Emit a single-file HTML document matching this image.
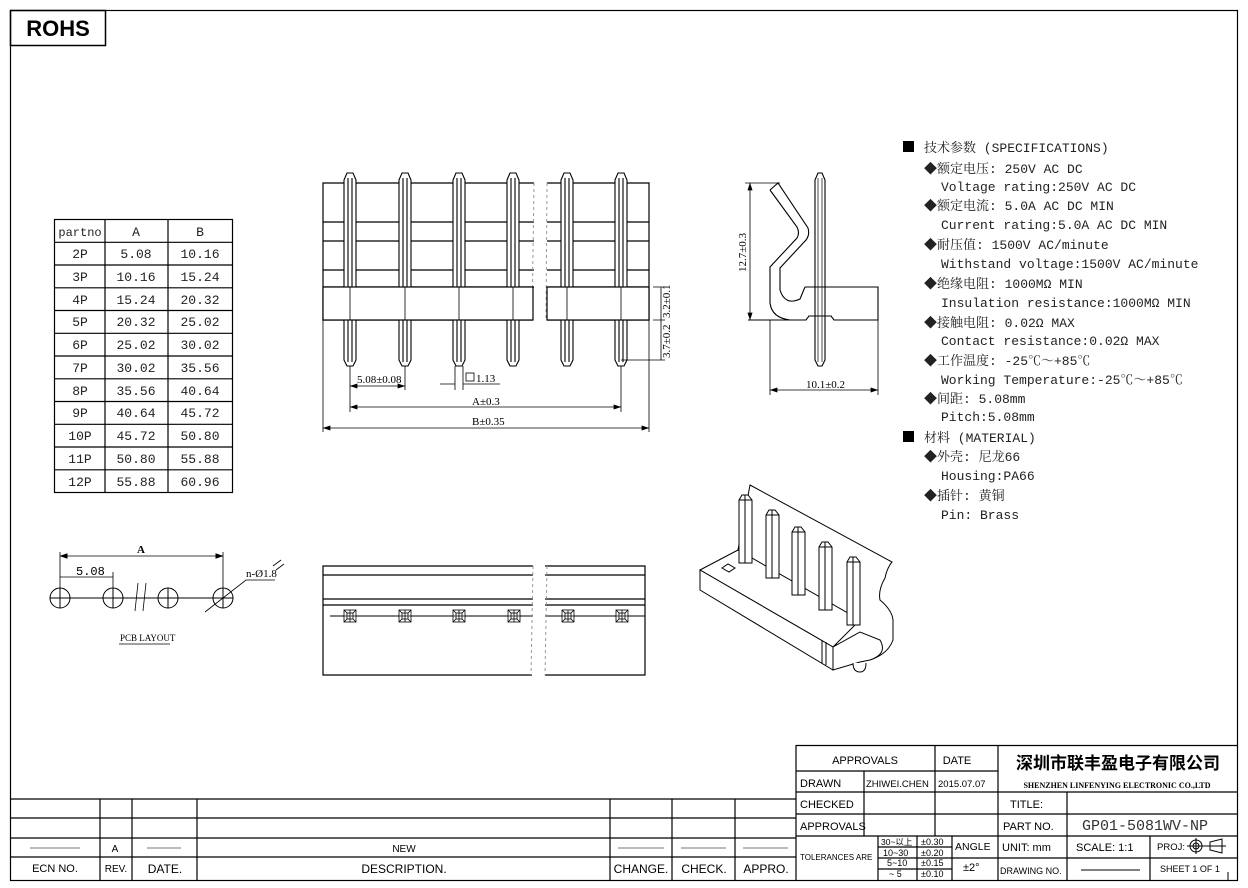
<!DOCTYPE html>
<html><head><meta charset="utf-8"><style>
html,body{margin:0;padding:0;background:#fff}
svg{display:block}
.s{font-family:"Liberation Sans","Noto Sans CJK SC",sans-serif}
.m{font-family:"Liberation Mono","Noto Serif CJK SC",monospace}
.r{font-family:"Liberation Serif","Noto Serif CJK SC",serif}
</style></head><body>
<svg width="1248" height="888" viewBox="0 0 1248 888" xmlns="http://www.w3.org/2000/svg" fill="none" stroke="#000" stroke-width="1">
<rect x="0" y="0" width="1248" height="888" fill="#fff" stroke="none"/>
<rect x="10.5" y="10.5" width="1227" height="870" stroke-width="1.2"/>
<rect x="10.5" y="10.5" width="95" height="35" stroke-width="1.5"/>
<text x="58" y="36" class="s" font-size="22" font-weight="bold" fill="#000" stroke="none" text-anchor="middle">ROHS</text>

<!-- parts table -->
<g stroke-width="1.2">
<rect x="54.5" y="219.5" width="178" height="273"/>
<line x1="105" y1="219" x2="105" y2="492"/><line x1="168" y1="219" x2="168" y2="492"/>
<line x1="54" y1="242.3" x2="232" y2="242.3"/><line x1="54" y1="265" x2="232" y2="265"/>
<line x1="54" y1="287.8" x2="232" y2="287.8"/><line x1="54" y1="310.5" x2="232" y2="310.5"/>
<line x1="54" y1="333.3" x2="232" y2="333.3"/><line x1="54" y1="356" x2="232" y2="356"/>
<line x1="54" y1="378.8" x2="232" y2="378.8"/><line x1="54" y1="401.5" x2="232" y2="401.5"/>
<line x1="54" y1="424.3" x2="232" y2="424.3"/><line x1="54" y1="447" x2="232" y2="447"/>
<line x1="54" y1="469.8" x2="232" y2="469.8"/>
</g>
<g class="m" font-size="13" fill="#222" stroke="none" text-anchor="middle">
<text x="80" y="236" font-size="12">partno</text><text x="136" y="236">A</text><text x="200" y="236">B</text>
<text x="80" y="258">2P</text><text x="136" y="258">5.08</text><text x="200" y="258">10.16</text>
<text x="80" y="281">3P</text><text x="136" y="281">10.16</text><text x="200" y="281">15.24</text>
<text x="80" y="304">4P</text><text x="136" y="304">15.24</text><text x="200" y="304">20.32</text>
<text x="80" y="326">5P</text><text x="136" y="326">20.32</text><text x="200" y="326">25.02</text>
<text x="80" y="349">6P</text><text x="136" y="349">25.02</text><text x="200" y="349">30.02</text>
<text x="80" y="372">7P</text><text x="136" y="372">30.02</text><text x="200" y="372">35.56</text>
<text x="80" y="395">8P</text><text x="136" y="395">35.56</text><text x="200" y="395">40.64</text>
<text x="80" y="417">9P</text><text x="136" y="417">40.64</text><text x="200" y="417">45.72</text>
<text x="80" y="440">10P</text><text x="136" y="440">45.72</text><text x="200" y="440">50.80</text>
<text x="80" y="463">11P</text><text x="136" y="463">50.80</text><text x="200" y="463">55.88</text>
<text x="80" y="486">12P</text><text x="136" y="486">55.88</text><text x="200" y="486">60.96</text>
</g>

<!-- front view -->
<g stroke-width="1.2">
<path d="M534 183 H323 V320 H533 M547 183 H649 V320 H547"/>
<path d="M323 222 H534 M323 241 H534 M323 270 H534 M323 287 H534 M547 222 H649 M547 241 H649 M547 270 H649 M547 287 H649"/>
</g>
<path d="M534 183 L532 320 M547 183 L546 320" stroke="#999" stroke-dasharray="3,3"/>
<g id="pin" stroke-width="1.1">
<path d="M344 360 V180 L347 173 H353 L356 180 V360 L353 366 H347 Z" fill="#fff"/>
<line x1="348" y1="178" x2="348" y2="362"/><line x1="352" y1="178" x2="352" y2="362"/>
</g>
<use href="#pin" x="55"/><use href="#pin" x="109"/><use href="#pin" x="163"/><use href="#pin" x="217"/><use href="#pin" x="271"/>
<g stroke-width="1.2" fill="#fff">
<rect x="323" y="287" width="210" height="33"/><rect x="547" y="287" width="102" height="33"/>
</g>
<path d="M350 287V320M405 287V320M459 287V320M513 287V320M567 287V320M621 287V320" stroke-width="0.8"/>
<g stroke-width="0.8">
<path d="M350 366V412M405 366V390M621 366V412M323 320V432M649 320V432"/>
<path d="M350 386H405M350 407H621M323 428H649"/>
<path d="M351 386l6-2v4zM404 386l-6-2v4zM351 407l6-2v4zM620 407l-6-2v4zM324 428l6-2v4zM648 428l-6-2v4z" fill="#000"/>
<path d="M455 366V390M463 366V390M440 384H455M463 384H500"/>
<path d="M653 287H665M653 320H665M621 360H665M661 287V360"/>
<rect x="466" y="373" width="8" height="8"/>
</g>
<g class="r" font-size="11" fill="#000" stroke="none">
<text x="357" y="383">5.08±0.08</text>
<text x="476" y="382">1.13</text>
<text x="472" y="405">A±0.3</text>
<text x="472" y="425">B±0.35</text>
<text transform="translate(670,318) rotate(-90)">3.2±0.1</text>
<text transform="translate(670,358) rotate(-90)">3.7±0.2</text>
</g>

<!-- side view -->
<g stroke-width="1.1">
<path d="M815 360 V180 L818 173 H822 L825 180 V360 L822 366 H818 Z" fill="#fff"/>
<path d="M818 178V362M822 178V362" stroke-width="0.7"/>
<path d="M805 287 H878 V320 H834 L831 316 H809 L806 320 H748"/>
<path d="M770 190 L797 227 Q800 233 797 238 L770 267 V303 Q772 318 790 320"/>
<path d="M770 190 L778 183 L808 228 Q810 235 806 240 L780 268 V290 Q785 306 800 299 L805 287"/>
</g>
<g stroke-width="0.8">
<path d="M745 183H780M750 183V320M770 320V395M878 320V395M770 390H878"/>
<path d="M750 184l-2 6h4zM750 319l-2-6h4zM771 390l6-2v4zM877 390l-6-2v4z" fill="#000"/>
</g>
<g class="r" font-size="11" fill="#000" stroke="none">
<text transform="translate(746,272) rotate(-90)">12.7±0.3</text>
<text x="806" y="388">10.1±0.2</text>
</g>

<!-- specs -->
<g class="m" font-size="13" fill="#222" stroke="none">
<rect x="903" y="141" width="11" height="11" fill="#000"/>
<text x="924" y="152">技术参数 (SPECIFICATIONS)</text>
<text x="924" y="173">◆额定电压: 250V AC DC</text>
<text x="941" y="191">Voltage rating:250V AC DC</text>
<text x="924" y="210">◆额定电流: 5.0A AC DC MIN</text>
<text x="941" y="229">Current rating:5.0A AC DC MIN</text>
<text x="924" y="249">◆耐压值: 1500V AC/minute</text>
<text x="941" y="268">Withstand voltage:1500V AC/minute</text>
<text x="924" y="288">◆绝缘电阻: 1000MΩ MIN</text>
<text x="941" y="307">Insulation resistance:1000MΩ MIN</text>
<text x="924" y="327">◆接触电阻: 0.02Ω MAX</text>
<text x="941" y="345">Contact resistance:0.02Ω MAX</text>
<text x="924" y="365">◆工作温度: -25℃～+85℃</text>
<text x="941" y="384">Working Temperature:-25℃～+85℃</text>
<text x="924" y="403">◆间距: 5.08mm</text>
<text x="941" y="421">Pitch:5.08mm</text>
<rect x="903" y="431" width="11" height="11" fill="#000"/>
<text x="924" y="442">材料 (MATERIAL)</text>
<text x="924" y="461">◆外壳: 尼龙66</text>
<text x="941" y="480">Housing:PA66</text>
<text x="924" y="500">◆插针: 黄铜</text>
<text x="941" y="519">Pin: Brass</text>
</g>

<!-- PCB layout -->
<g stroke-width="1">
<circle cx="60" cy="598" r="10"/><circle cx="113" cy="598" r="10"/><circle cx="168" cy="598" r="10"/><circle cx="223" cy="598" r="10"/>
<path d="M50 598H233M60 588V608M113 588V608M168 588V608M223 588V608"/>
<path d="M60 552V588M223 552V588M113 572V588M60 556H223M60 577H113" stroke-width="0.8"/>
<path d="M61 556l6-2v4zM222 556l-6-2v4z" fill="#000"/>
<path d="M138 583L135 611M146 583L143 611" stroke-width="0.8"/>
<path d="M205 612L246 580H275M273 566L281 560M276 570L284 564" stroke-width="0.8"/>
<path d="M119 644H170" stroke-width="0.8"/>
</g>
<g class="r" font-size="11" fill="#000" stroke="none">
<text x="137" y="553" font-weight="bold">A</text>
<text x="76" y="575" class="m" font-size="12">5.08</text>
<text x="246" y="577">n-Ø1.8</text>
<text x="120" y="641" font-size="9">PCB LAYOUT</text>
</g>

<!-- bottom view -->
<g stroke-width="1.2">
<path d="M533 566H323V675H532M545 566H645V675H545"/>
<path d="M323 575H533M323 599H533M323 605H533M545 575H645M545 599H645M545 605H645"/>
<path d="M330 616H533M545 616H645" stroke-width="1"/>
</g>
<path d="M533 566L531 675M547 566L545 675" stroke="#999" stroke-dasharray="3,3"/>
<g id="sq" stroke-width="0.8" fill="#fff">
<rect x="344" y="610" width="12" height="12"/><rect x="347" y="613" width="6" height="6"/>
<path d="M350 610V622M344 616H356M344 610L347 613M356 610L353 613M344 622L347 619M356 622L353 619"/>
</g>
<use href="#sq" x="55"/><use href="#sq" x="109"/><use href="#sq" x="164"/><use href="#sq" x="218"/><use href="#sq" x="272"/>

<!-- 3D view -->
<g stroke-width="1" fill="#fff">
<path d="M750 485 L892 562 Q887 568 885 578 Q878 590 880 600 Q892 610 893 620 V640 Q888 654 870 660 H860 L840 648 L738 550 Z"/>
<path d="M700 570 L738 550 L860 620 L833 647 Z"/>
<path d="M700 570 V590 L833 670 V647 Z"/>
<path d="M833 647 L860 632 L880 640 Q888 654 870 660 L860 662 L833 670 Z"/>
<path d="M822 640V663M826 642V665"/>
<path d="M853 663 Q853 672 860 672 Q866 672 866 663"/>
<path d="M722 568 L728 564 L735 568 L729 572 Z"/>
</g>
<g id="p3" stroke-width="1" fill="#fff">
<path d="M739 563 V500 L742 495 H748 L752 500 V563 Z"/>
<path d="M739 500H752M745 495V563"/>
</g>
<use href="#p3" x="27" y="15"/><use href="#p3" x="53" y="32"/><use href="#p3" x="80" y="47"/><use href="#p3" x="108" y="62"/>

<!-- revision block -->
<g stroke-width="1.2">
<path d="M10 799H796M10 818H796M10 838H796M10 857H796"/>
<path d="M100 799V880M132 799V880M197 799V880M610 799V880M672 799V880M735 799V880M796 745V880"/>
</g>
<path d="M30 848H80M147 848H181M618 848H664M681 848H726M743 848H788" stroke="#777"/>
<g class="s" font-size="11" fill="#000" stroke="none" text-anchor="middle">
<text x="115" y="852" font-size="10">A</text>
<text x="404" y="852" font-size="10">NEW</text>
<text x="55" y="872">ECN NO.</text><text x="116" y="872" font-size="10">REV.</text><text x="165" y="873" font-size="12">DATE.</text>
<text x="404" y="873" font-size="12">DESCRIPTION.</text><text x="641" y="873" font-size="12">CHANGE.</text>
<text x="704" y="873" font-size="12">CHECK.</text><text x="766" y="873" font-size="12">APPRO.</text>
</g>

<!-- title block -->
<g stroke-width="1.2">
<path d="M796 745.5H1237M796 771H998M796 792H1237M796 814H1237M796 836H1237M998 858H1237"/>
<path d="M864 771V836M935 745V836M998 745V880M1067 792V880M1150 836V880"/>
<path d="M878 836V880M917 836V880M952 836V880M878 847H952M878 858H998M878 869H952"/>
</g>
<path d="M1081 870H1140" stroke-width="1"/>
<g class="s" font-size="11" fill="#000" stroke="none">
<text x="865" y="764" text-anchor="middle">APPROVALS</text>
<text x="957" y="764" text-anchor="middle">DATE</text>
<text x="800" y="787">DRAWN</text><text x="866" y="787" font-size="9.5">ZHIWEI.CHEN</text><text x="938" y="787" font-size="9.5">2015.07.07</text>
<text x="800" y="808">CHECKED</text><text x="800" y="830">APPROVALS</text>
<text x="800" y="860" font-size="8">TOLERANCES  ARE</text>
<text x="881" y="845" font-size="8.5">30~以上</text><text x="921" y="845" font-size="9">±0.30</text>
<text x="883" y="856" font-size="9">10~30</text><text x="921" y="856" font-size="9">±0.20</text>
<text x="887" y="866" font-size="9">5~10</text><text x="921" y="866" font-size="9">±0.15</text>
<text x="889" y="877" font-size="9">~ 5</text><text x="921" y="877" font-size="9">±0.10</text>
<text x="955" y="850" font-size="10.5">ANGLE</text><text x="963" y="871">±2°</text>
<text x="1010" y="808">TITLE:</text><text x="1003" y="830">PART  NO.</text>
<text x="1002" y="851">UNIT:  mm</text><text x="1000" y="874" font-size="9">DRAWING  NO.</text>
<text x="1076" y="851">SCALE:    1:1</text>
<text x="1157" y="850" font-size="9.5">PROJ:</text>
<text x="1160" y="872" font-size="9">SHEET   1  OF  1</text>
<text x="1118" y="769" text-anchor="middle" font-size="17" font-weight="bold" font-family="'Noto Sans CJK SC',sans-serif">深圳市联丰盈电子有限公司</text>
<text x="1117" y="788" text-anchor="middle" font-size="8" font-weight="bold" font-family="'Liberation Serif',serif">SHENZHEN LINFENYING ELECTRONIC CO.,LTD</text>
<text x="1145" y="830" text-anchor="middle" font-size="15" font-family="'Liberation Mono',monospace" fill="#333">GP01-5081WV-NP</text>
</g>
<g stroke-width="1">
<circle cx="1196" cy="846" r="6"/><circle cx="1196" cy="846" r="3"/><path d="M1187 846H1226M1196 838V854"/>
<path d="M1210 842V850L1222 853V839Z"/>
</g>
<path d="M1228 880V872" stroke-width="1"/>
</svg>
</body></html>
